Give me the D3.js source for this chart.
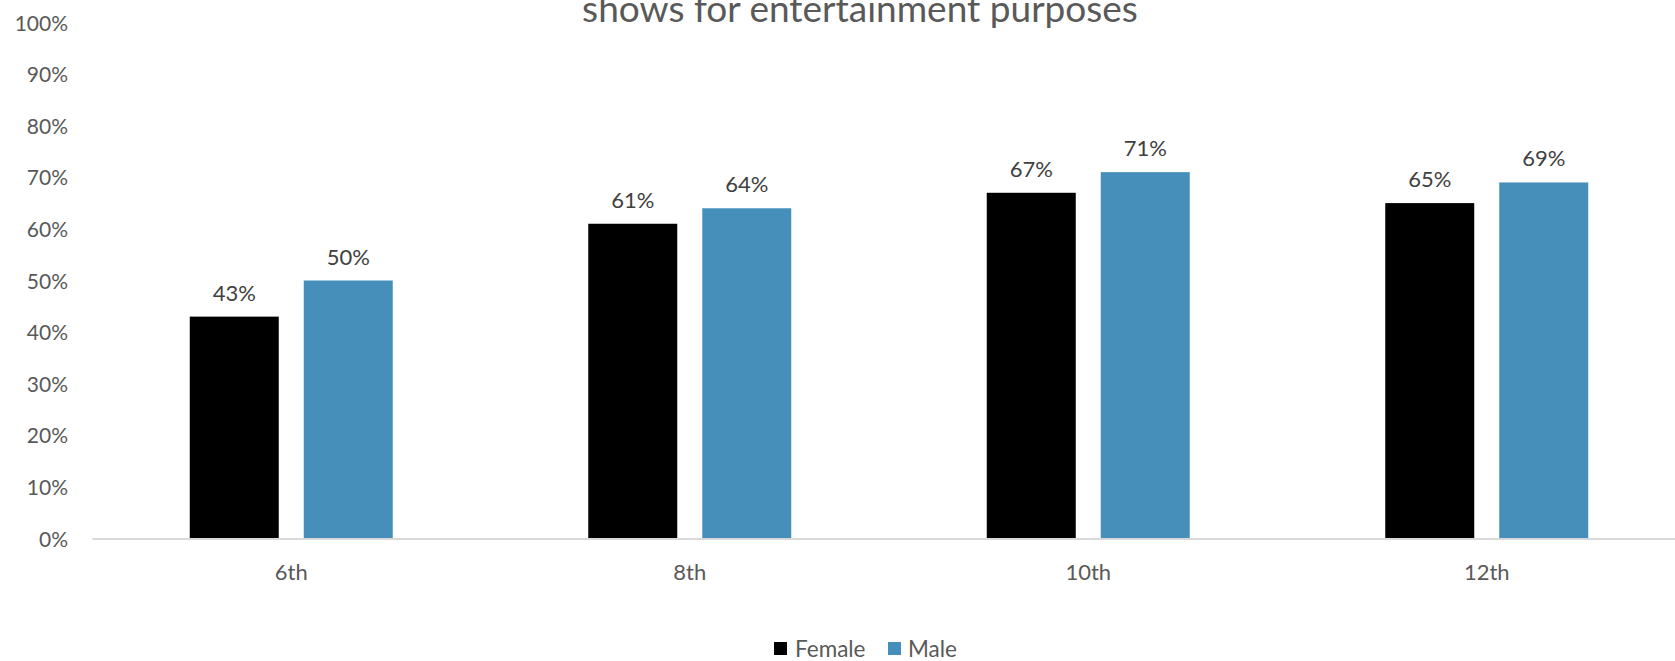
<!DOCTYPE html>
<html>
<head>
<meta charset="utf-8">
<script src="https://cdn.jsdelivr.net/npm/d3@7"></script>
<style>
  html, body { margin: 0; padding: 0; background: #fff; }
  svg { display: block; }
  text { font-family: Lato, "Open Sans", sans-serif; fill: #595959; }
</style>
</head>
<body>
<svg id="chart" width="1675" height="661"></svg>
<script>
const categories = ["6th", "8th", "10th", "12th"];
const seriesNames = ["Female", "Male"];
const femaleValues = [43, 61, 67, 65];
const maleValues = [50, 64, 71, 69];
const yTicks = [0, 10, 20, 30, 40, 50, 60, 70, 80, 90, 100];
const titleText = "shows for entertainment purposes";
const colors = ["#000000", "#468FBA"];

const seriesValues = [femaleValues, maleValues];

const svg = d3.select("#chart");
const plotLeft = 92, plotRight = 1686, plotTop = 22.5, plotBottom = 538.5;

const y = d3.scaleLinear().domain([0, 100]).range([plotBottom, plotTop]);
const x0 = d3.scaleBand().domain(categories).range([plotLeft, plotRight])
  .paddingInner(0.4906).paddingOuter(0.2453);
const x1 = d3.scaleBand().domain(seriesNames).range([0, x0.bandwidth()])
  .paddingInner(0.2193).paddingOuter(0);

// Title
svg.append("text")
  .attr("x", 860).attr("y", 22)
  .attr("text-anchor", "middle")
  .style("font-size", "37px")
  .text(titleText);

// Y axis labels
const yAxis = d3.axisLeft(y).tickValues(yTicks).tickFormat(d => d + "%").tickSize(0).tickPadding(0);
const yg = svg.append("g").attr("transform", `translate(68,0)`).call(yAxis);
yg.select(".domain").remove();
yg.selectAll("text").style("font-size", "21px").style("font-family", "Lato, sans-serif").style("fill", "#595959").attr("dy", "0.36em");

// Bars
const groups = svg.append("g").selectAll("g")
  .data(categories)
  .join("g")
  .attr("transform", d => `translate(${x0(d)},0)`);

groups.selectAll("rect")
  .data((c, i) => seriesNames.map((s, j) => ({ s, v: seriesValues[j][i], j })))
  .join("rect")
  .attr("x", d => x1(d.s))
  .attr("y", d => y(d.v))
  .attr("width", x1.bandwidth())
  .attr("height", d => y(0) - y(d.v))
  .attr("fill", d => colors[d.j]);

groups.selectAll("text.lbl")
  .data((c, i) => seriesNames.map((s, j) => ({ s, v: seriesValues[j][i], j })))
  .join("text")
  .attr("class", "lbl")
  .attr("x", d => x1(d.s) + x1.bandwidth() / 2)
  .attr("y", d => y(d.v) - 16)
  .attr("text-anchor", "middle")
  .style("font-size", "22px")
  .style("fill", "#404040")
  .text(d => d.v + "%");

// X axis
const xAxis = d3.axisBottom(x0).tickSize(0).tickPadding(0);
const xg = svg.append("g").attr("transform", `translate(0,${plotBottom})`).call(xAxis);
xg.select(".domain").attr("stroke", "#D9D9D9").attr("stroke-width", 2);
xg.selectAll("text").style("font-size", "22px").style("font-family", "Lato, sans-serif")
  .style("fill", "#595959").attr("dy", null).attr("y", 41.5);

// Legend
const legendItems = [
  { name: "Female", sx: 774, tx: 795 },
  { name: "Male", sx: 888, tx: 908 }
];
const lg = svg.append("g");
legendItems.forEach((it, i) => {
  lg.append("rect").attr("x", it.sx).attr("y", 642).attr("width", 13).attr("height", 13).attr("fill", colors[i]);
  lg.append("text").attr("x", it.tx).attr("y", 656.5).style("font-size", "22.5px").text(it.name);
});
</script>
</body>
</html>
